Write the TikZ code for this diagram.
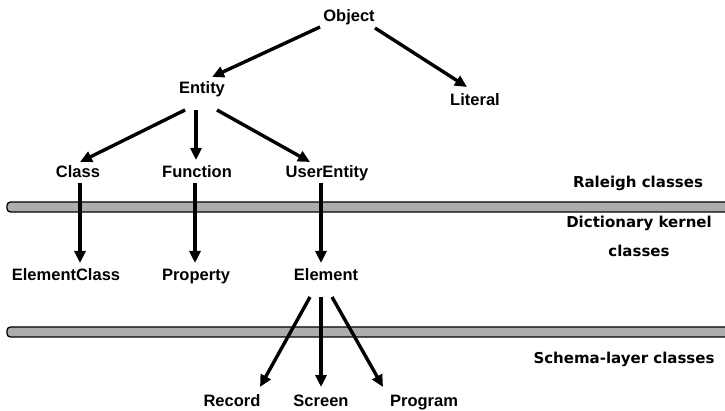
\documentclass[tikz,border=0pt]{standalone}
\usepackage{fontspec}
\setmainfont{Liberation Sans}
\newfontfamily\layerfont{DejaVu Sans}
\usetikzlibrary{arrows.meta,calc}
\begin{document}
\begin{tikzpicture}[x=1pt,y=-1pt,
  cls/.style={font=\bfseries\fontsize{16.5}{19}\selectfont, inner sep=0pt, anchor=base},
  layer/.style={font=\layerfont\bfseries\fontsize{15}{29}\selectfont, align=center, inner sep=0pt, anchor=base},
  link/.style={line width=3.4pt, -{Triangle[length=12pt,width=11pt]}},
  band/.style={draw=black, line width=1.3pt, fill=black!32, rounded corners=3.5pt}]
\useasboundingbox (0,0) rectangle (725,411);
% layer bands
\draw[band] (7,202) rectangle (740,212);
\draw[band] (7,327) rectangle (740,337);
% classes (placed by baseline)
\node[cls] (object) at (349,22) {Object};
\node[cls] (entity) at (202,94) {Entity};
\node[cls] (literal) at (475,106) {Literal};
\node[cls] (class) at (78,178) {Class};
\node[cls] (function) at (197,178) {Function};
\node[cls] (userentity) at (327,178) {UserEntity};
\node[cls] (elementclass) at (66,281) {ElementClass};
\node[cls] (property) at (196,281) {Property};
\node[cls] (element) at (326,281) {Element};
\node[cls] (record) at (232,406) {Record};
\node[cls] (screen) at (321,406) {Screen};
\node[cls] (program) at (424,406) {Program};
% layer labels (two-line label sits on its last baseline)
\node[layer] (raleigh) at (638,188) {Raleigh classes};
\node[layer] (kernel) at (639,257) {Dictionary kernel\\classes};
\node[layer] (schema) at (624,363) {Schema-layer classes};
% inheritance links
\draw[link] ($(object.base)+(-29,5)$) -- ($(entity.base)+(10,-17)$);
\draw[link] ($(object.base)+(26,6)$) -- ($(literal.base)+(-8,-19)$);
\draw[link] ($(entity.base)+(-17,16)$) -- ($(class.base)+(2,-16)$);
\draw[link] ($(entity.base)+(-6,16)$) -- ($(function.base)+(-1,-18)$);
\draw[link] ($(entity.base)+(15,16)$) -- ($(userentity.base)+(-17,-16)$);
\draw[link] ($(class.base)+(2,5)$) -- ($(elementclass.base)+(14,-18)$);
\draw[link] ($(function.base)+(-2,5)$) -- ($(property.base)+(-1,-18)$);
\draw[link] ($(userentity.base)+(-6,5)$) -- ($(element.base)+(-5,-18)$);
\draw[link] ($(element.base)+(-16,16)$) -- ($(record.base)+(28,-19)$);
\draw[link] ($(element.base)+(-5,16)$) -- ($(screen.base)+(0,-19)$);
\draw[link] ($(element.base)+(6,16)$) -- ($(program.base)+(-41,-19)$);
\end{tikzpicture}
\end{document}
